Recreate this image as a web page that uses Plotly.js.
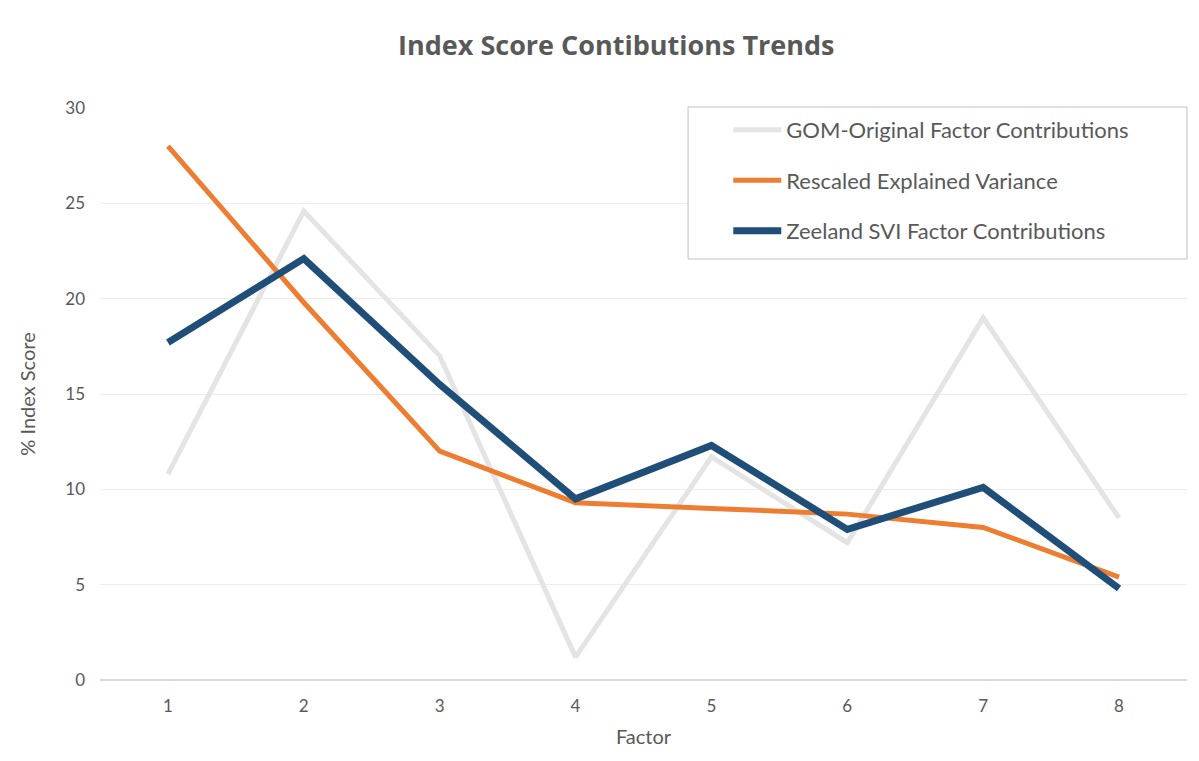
<!DOCTYPE html>
<html>
<head>
<meta charset="utf-8">
<script src="https://cdn.plot.ly/plotly-3.0.1.min.js"></script>
<style>html,body{margin:0;padding:0;background:#fff;}#chart{width:1199px;height:761px;}</style>
</head>
<body>
<div id="chart"></div>
<script>
const factors = [1, 2, 3, 4, 5, 6, 7, 8];
const gomOriginal = [10.8, 24.6, 17.0, 1.2, 11.7, 7.2, 19.0, 8.5];
const rescaledVariance = [28.0, 19.8, 12.0, 9.3, 9.0, 8.7, 8.0, 5.4];
const zeelandSVI = [17.7, 22.1, 15.5, 9.5, 12.3, 7.9, 10.1, 4.8];
const seriesNames = ["GOM-Original Factor Contributions", "Rescaled Explained Variance", "Zeeland SVI Factor Contributions"];

const font = "Lato, 'Open Sans', sans-serif";
const traces = [
  {x: factors, y: gomOriginal, name: seriesNames[0], legendgroup: "a", mode: "lines",
   line: {color: "#e4e4e4", width: 5}},
  {x: factors, y: rescaledVariance, name: seriesNames[1], legendgroup: "b", mode: "lines",
   line: {color: "#ed7d31", width: 5}},
  {x: factors, y: zeelandSVI, name: seriesNames[2], legendgroup: "c", mode: "lines",
   line: {color: "#1f4e79", width: 7}}
];
const layout = {
  width: 1199, height: 761,
  margin: {l: 100, r: 12, t: 108, b: 81},
  paper_bgcolor: "#fff", plot_bgcolor: "#fff",
  font: {family: font, color: "#595959"},
  title: {text: "<b>Index Score Contibutions Trends</b>", x: 0.514, xanchor: "center", y: 0.94, yanchor: "middle",
          font: {family: "'Open Sans', sans-serif", size: 27, color: "#595959"}},
  xaxis: {range: [0.5, 8.5], tickvals: factors, ticktext: factors.map(String), showgrid: false,
          zeroline: false, showline: false, ticks: "", tickfont: {size: 17, color: "#595959"},
          ticklabelstandoff: 14,
          title: {text: "Factor", font: {size: 20, color: "#595959"}, standoff: 14}},
  yaxis: {range: [0, 30], dtick: 5, showgrid: true, gridcolor: "#ececec", gridwidth: 1,
          zeroline: true, zerolinecolor: "#d9d9d9", zerolinewidth: 1.5, ticks: "",
          tickfont: {size: 17, color: "#595959"}, ticklabelstandoff: 14,
          title: {text: "% Index Score", font: {size: 20, color: "#595959"}, standoff: 24}},
  shapes: [{type: "rect", xref: "paper", yref: "paper", x0: 0.541, x1: 1.0, y0: 0.736, y1: 1.0017,
            line: {color: "#bfbfbf", width: 1}, fillcolor: "#ffffff", layer: "above"}],
  showlegend: true,
  legend: {x: 0.578, xanchor: "left", y: 0.9985, yanchor: "top", borderwidth: 0,
           bgcolor: "rgba(0,0,0,0)", font: {size: 22, color: "#595959"}, tracegroupgap: 19,
           traceorder: "grouped", itemwidth: 48},
  hovermode: false
};
Plotly.newPlot("chart", traces, layout, {displayModeBar: false, staticPlot: true});
</script>
</body>
</html>
